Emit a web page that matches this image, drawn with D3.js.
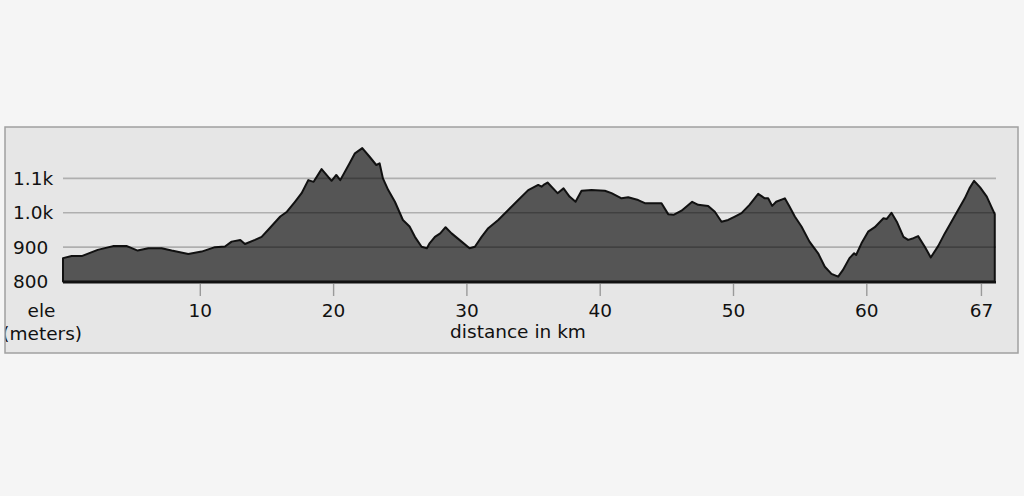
<!DOCTYPE html>
<html>
<head>
<meta charset="utf-8">
<script src="https://cdn.jsdelivr.net/npm/d3@7"></script>
<style>
  html, body { margin: 0; padding: 0; background: #f5f5f5; }
  svg { display: block; font-family: "DejaVu Sans", sans-serif; }
</style>
</head>
<body>
<script>
// distance along the route (km) and elevation (m)
var distance = [-0.3, 0.35, 1.1, 2.3, 3.45, 4.5, 5.3, 6.1, 7.1, 7.85, 9.1, 10.1, 11.1, 11.85,
  12.35, 13.0, 13.35, 14.1, 14.6, 15.2, 16.0, 16.5, 17.1, 17.6, 18.1, 18.5, 19.1, 19.85,
  20.2, 20.5, 21.2, 21.6, 22.15, 22.7, 23.2, 23.45, 23.7, 24.1, 24.6, 25.2, 25.7, 26.1,
  26.6, 27.0, 27.2, 27.6, 28.0, 28.4, 28.85, 29.6, 30.2, 30.6, 31.1, 31.6, 32.35, 33.1,
  33.85, 34.6, 35.35, 35.6, 35.75, 36.05, 36.8, 37.25, 37.7, 38.15, 38.6, 39.35, 40.35,
  40.85, 41.6, 42.1, 42.85, 43.35, 44.6, 45.1, 45.5, 46.1, 46.9, 47.35, 48.1, 48.6, 49.1,
  49.6, 50.1, 50.6, 51.2, 51.85, 52.35, 52.6, 52.9, 53.2, 53.85, 54.2, 54.6, 55.1, 55.7,
  56.35, 56.85, 57.35, 57.85, 58.2, 58.7, 59.05, 59.2, 59.6, 60.1, 60.6, 61.25, 61.5,
  61.85, 62.25, 62.75, 63.1, 63.5, 63.85, 64.35, 64.8, 65.35, 65.85, 66.35, 66.85, 67.35,
  67.7, 68.05, 68.5, 69.0, 69.4, 69.6];

var elevation = [868, 874, 874, 892, 903, 903, 890, 897, 897, 890, 880, 887, 900, 902,
  916, 921, 909, 921, 930, 955, 989, 1003, 1032, 1057, 1095, 1090, 1127, 1093,
  1110, 1095, 1144, 1173, 1188, 1163, 1139, 1144, 1100, 1066, 1032, 979, 960, 930,
  901, 897, 911, 930, 940, 958, 940, 916, 897, 901, 930, 955, 979, 1008,
  1037, 1066, 1081, 1076, 1081, 1088, 1057, 1071, 1047, 1032, 1064, 1066, 1064,
  1057, 1042, 1045, 1037, 1028, 1028, 996, 994, 1006, 1032, 1023, 1020, 1003, 974,
  979, 989, 999, 1023, 1055, 1042, 1042, 1020, 1032, 1042, 1018, 989, 960, 916,
  882, 843, 822, 814, 833, 868, 882, 877, 911, 945, 958, 984, 982,
  1000, 974, 930, 921, 926, 932, 901, 870, 903, 940, 974, 1008, 1042,
  1071, 1093, 1074, 1047, 1013, 996];

var yTicks = [800, 900, 1000, 1100];
var yTickLabels = ["800", "900", "1.0k", "1.1k"];
var xTicks = [10, 20, 30, 40, 50, 60, 68.6];
var xTickLabels = ["10", "20", "30", "40", "50", "60", "67"];

var w = 1024, h = 496;
var plotLeft = 63, plotRight = 996;

var data = distance.map(function(d, i) { return { km: d, ele: elevation[i] }; });

var xScale = d3.scaleLinear()
  .domain([0, 70])
  .range([67, 67 + 70 * 13.33]);

var yScale = d3.scaleLinear()
  .domain([800, 1100])
  .range([281.5, 178.4]);

var svg = d3.select("body")
  .append("svg")
  .attr("width", w)
  .attr("height", h);

// frame
svg.append("clipPath").attr("id", "frameclip")
  .append("rect")
  .attr("x", 5).attr("y", 127).attr("width", 1013).attr("height", 226);

svg.append("rect")
  .attr("x", 5).attr("y", 127).attr("width", 1013).attr("height", 226)
  .attr("fill", "#e6e6e6");

var g = svg.append("g").attr("clip-path", "url(#frameclip)");

// elevation area
var area = d3.area()
  .x(function(d) { return xScale(d.km); })
  .y0(yScale(800))
  .y1(function(d) { return yScale(d.ele); });

g.append("path")
  .datum(data)
  .attr("d", area)
  .attr("fill", "#555555")
  .attr("stroke", "#111")
  .attr("stroke-width", 2)
  .attr("stroke-linejoin", "round");

// horizontal grid on top of the area
g.selectAll("line.grid")
  .data(yTicks.slice(1))
  .enter()
  .append("line")
  .attr("class", "grid")
  .attr("x1", plotLeft)
  .attr("x2", plotRight)
  .attr("y1", function(d) { return yScale(d); })
  .attr("y2", function(d) { return yScale(d); })
  .attr("stroke", "rgba(0,0,0,0.24)")
  .attr("stroke-width", 1.6);

// baseline
g.append("line")
  .attr("x1", plotLeft).attr("x2", plotRight)
  .attr("y1", yScale(800) + 0.8).attr("y2", yScale(800) + 0.8)
  .attr("stroke", "#111")
  .attr("stroke-width", 2.4);

// y labels
g.selectAll("text.ylab")
  .data(yTicks)
  .enter()
  .append("text")
  .attr("class", "ylab")
  .attr("x", 13)
  .attr("y", function(d) { return yScale(d); })
  .attr("dy", "0.36em")
  .attr("font-size", "18.5px")
  .attr("fill", "#111")
  .text(function(d, i) { return yTickLabels[i]; });

// x ticks and labels
g.selectAll("line.xtick")
  .data(xTicks)
  .enter()
  .append("line")
  .attr("class", "xtick")
  .attr("x1", function(d) { return xScale(d); })
  .attr("x2", function(d) { return xScale(d); })
  .attr("y1", 284)
  .attr("y2", 296)
  .attr("stroke", "#9a9a9a")
  .attr("stroke-width", 1.4);

g.selectAll("text.xlab")
  .data(xTicks)
  .enter()
  .append("text")
  .attr("class", "xlab")
  .attr("x", function(d) { return xScale(d); })
  .attr("y", 317)
  .attr("text-anchor", "middle")
  .attr("font-size", "18.5px")
  .attr("fill", "#111")
  .text(function(d, i) { return xTickLabels[i]; });

// axis titles
g.append("text")
  .attr("x", 41.5).attr("y", 317)
  .attr("text-anchor", "middle")
  .attr("font-size", "18.5px").attr("fill", "#111")
  .text("ele");

g.append("text")
  .attr("x", 82).attr("y", 340)
  .attr("text-anchor", "end")
  .attr("font-size", "18.5px").attr("fill", "#111")
  .text("(meters)");

g.append("text")
  .attr("x", 518).attr("y", 338)
  .attr("text-anchor", "middle")
  .attr("font-size", "18.5px").attr("fill", "#111")
  .text("distance in km");

svg.append("rect")
  .attr("x", 5).attr("y", 127).attr("width", 1013).attr("height", 226)
  .attr("fill", "none")
  .attr("stroke", "#a0a0a0")
  .attr("stroke-width", 1.5);
</script>
</body>
</html>
